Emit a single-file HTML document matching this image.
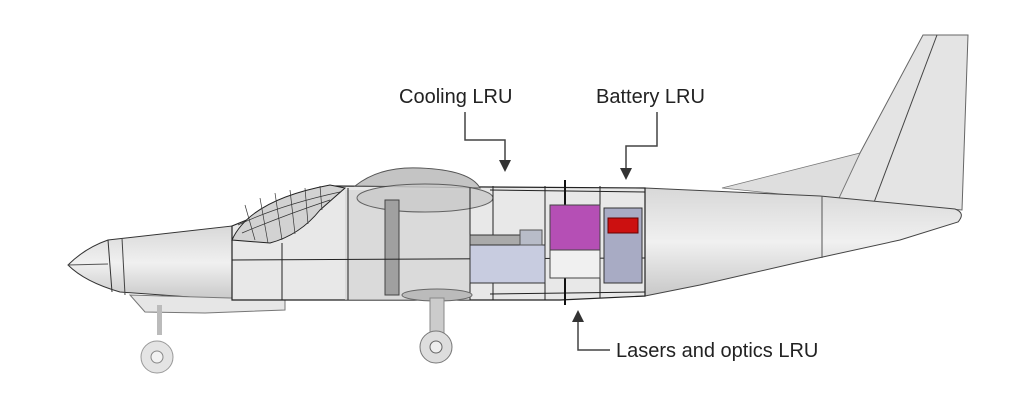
<!DOCTYPE html>
<html><head><meta charset="utf-8"><style>
body{margin:0;background:#fff;}
svg{display:block}
text{font-family:"Liberation Sans",sans-serif;font-size:20px;fill:#222}
</style></head><body>
<svg width="1024" height="409" viewBox="0 0 1024 409">
<defs>
<linearGradient id="fg" x1="0" y1="0" x2="0" y2="1">
<stop offset="0" stop-color="#d8d8d8"/><stop offset="0.5" stop-color="#f0f0f0"/><stop offset="1" stop-color="#c8c8c8"/>
</linearGradient>
</defs>
<polygon points="860,153 923,35 968,35 962,210 838,200" fill="#e4e4e4" stroke="#666" stroke-width="1"/>
<line x1="937" y1="35" x2="873" y2="205" stroke="#444" stroke-width="1"/>
<polygon points="722,188 860,153 838,200" fill="#dedede" stroke="#777" stroke-width="0.8"/>
<path d="M645,188 L820,196 L955,209 Q966,213 958,222 L900,240 L800,262 L700,285 L645,296 Z" fill="url(#fg)" stroke="#444" stroke-width="1"/>
<line x1="822" y1="196" x2="822" y2="258" stroke="#555"/>
<path d="M68,265 Q85,248 108,240 L232,226 L232,300 L120,292 Q85,282 68,265 Z" fill="url(#fg)" stroke="#333" stroke-width="1"/>
<line x1="108" y1="240" x2="112" y2="292" stroke="#333"/>
<line x1="122" y1="238" x2="125" y2="295" stroke="#444"/>
<line x1="68" y1="265" x2="108" y2="264" stroke="#555"/>
<path d="M130,295 L145,312 L205,313 L285,310 L285,300 L230,298 Z" fill="#e6e6e6" stroke="#777"/>
<path d="M232,226 L330,186 L645,188 L645,296 L560,300 L232,300 Z" fill="#e8e8e8" stroke="#222" stroke-width="1.2"/>
<rect x="345" y="190" width="125" height="110" fill="#d0d0d0" opacity="0.6"/>
<path d="M232,240 Q250,200 330,185 L345,188 L320,210 Q300,235 270,243 Z" fill="#d2d2d2" stroke="#222"/>
<g stroke="#333" stroke-width="0.7">
<line x1="245" y1="205" x2="255" y2="240"/><line x1="260" y1="198" x2="268" y2="243"/><line x1="275" y1="193" x2="282" y2="240"/><line x1="290" y1="190" x2="295" y2="234"/><line x1="305" y1="188" x2="308" y2="224"/><line x1="320" y1="186" x2="322" y2="210"/>
<path d="M238,225 Q280,205 340,192" fill="none"/><path d="M242,233 Q285,215 330,200" fill="none"/>
</g>
<path d="M355,186 Q380,166 420,168 Q470,170 480,188 Z" fill="#c4c4c4" stroke="#555"/>
<ellipse cx="425" cy="198" rx="68" ry="14" fill="#cacaca" stroke="#444" opacity="0.8"/>
<rect x="385" y="200" width="14" height="95" fill="#a0a0a0" stroke="#444"/>
<g stroke="#222" stroke-width="1">
<line x1="232" y1="226" x2="232" y2="300"/><line x1="282" y1="243" x2="282" y2="300"/>
<line x1="348" y1="188" x2="348" y2="300"/><line x1="470" y1="188" x2="470" y2="300"/>
<line x1="493" y1="186" x2="493" y2="300"/><line x1="545" y1="186" x2="545" y2="300"/>
<line x1="600" y1="186" x2="600" y2="298"/>
<line x1="645" y1="188" x2="645" y2="296"/>
<line x1="232" y1="260" x2="645" y2="258"/>
<line x1="490" y1="190" x2="645" y2="192"/><line x1="490" y1="294" x2="645" y2="292"/>
</g>
<line x1="565" y1="180" x2="565" y2="305" stroke="#111" stroke-width="2"/>
<rect x="470" y="245" width="75" height="38" fill="#c8cce0" stroke="#333"/>
<rect x="470" y="235" width="50" height="10" fill="#aaa" stroke="#333"/>
<rect x="520" y="230" width="22" height="15" fill="#b8bcc8" stroke="#555"/>
<rect x="550" y="205" width="50" height="45" fill="#b54fb5" stroke="#444"/>
<rect x="550" y="250" width="50" height="28" fill="#f0f0f0" stroke="#444"/>
<rect x="604" y="208" width="38" height="75" fill="#a8abc4" stroke="#333"/>
<rect x="608" y="218" width="30" height="15" fill="#cc1010" stroke="#600"/>
<ellipse cx="437" cy="295" rx="35" ry="6" fill="#bbb" stroke="#666"/>
<rect x="430" y="298" width="14" height="40" fill="#ccc" stroke="#888"/>
<circle cx="436" cy="347" r="16" fill="#ddd" stroke="#777"/>
<circle cx="436" cy="347" r="6" fill="#eee" stroke="#666"/>
<rect x="157" y="305" width="5" height="30" fill="#bbb"/>
<circle cx="157" cy="357" r="16" fill="#e4e4e4" stroke="#999"/>
<circle cx="157" cy="357" r="6" fill="#f2f2f2" stroke="#888"/>
<text x="399" y="103">Cooling LRU</text>
<text x="596" y="103">Battery LRU</text>
<text x="616" y="357">Lasers and optics LRU</text>
<g stroke="#444" stroke-width="1.5" fill="none">
<polyline points="465,112 465,140 505,140 505,160"/>
<polyline points="657,112 657,146 626,146 626,168"/>
<polyline points="578,322 578,350 610,350"/>
</g>
<g fill="#333">
<polygon points="499,160 511,160 505,172"/>
<polygon points="620,168 632,168 626,180"/>
<polygon points="572,322 584,322 578,310"/>
</g>
</svg>
</body></html>
